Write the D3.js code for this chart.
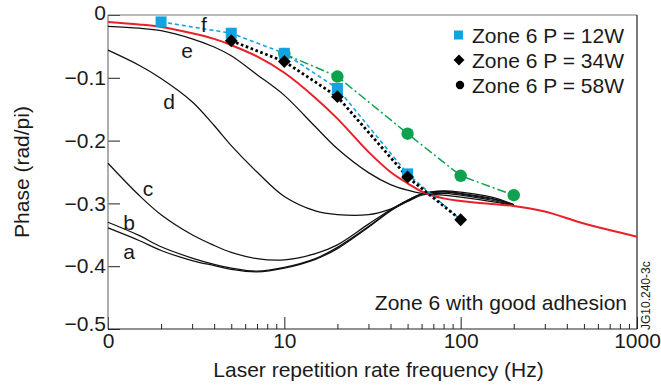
<!DOCTYPE html>
<html><head><meta charset="utf-8">
<script src="https://cdn.jsdelivr.net/npm/d3@7"></script>
<style>
body{margin:0;background:#fff}
svg{display:block}
text{font-family:"Liberation Sans",Arial,Helvetica,sans-serif;fill:#1a1a1a}
</style>
</head><body>
<svg id="chart" width="661" height="390"></svg>
<script>
// ---------- data ----------
const modelFreq = [1,1.5,2,3,4,5,7,10,15,20,30,40,50,60,80,100,150,200];
const curveA = [-0.339,-0.359,-0.375,-0.391,-0.399,-0.405,-0.409,-0.403,-0.389,-0.372,-0.338,-0.312,-0.296,-0.285,-0.280,-0.282,-0.290,-0.302];
const curveB = [-0.330,-0.351,-0.369,-0.387,-0.397,-0.403,-0.408,-0.402,-0.388,-0.370,-0.337,-0.311,-0.295,-0.285,-0.281,-0.284,-0.292,-0.302];
const curveC = [-0.236,-0.287,-0.318,-0.350,-0.367,-0.378,-0.388,-0.390,-0.380,-0.366,-0.333,-0.310,-0.295,-0.285,-0.282,-0.285,-0.293,-0.303];
const curveD = [-0.056,-0.080,-0.101,-0.138,-0.176,-0.208,-0.250,-0.289,-0.312,-0.318,-0.318,-0.309,-0.297,-0.287,-0.284,-0.287,-0.295,-0.303];
const curveE = [-0.018,-0.021,-0.025,-0.038,-0.051,-0.065,-0.095,-0.128,-0.178,-0.213,-0.251,-0.270,-0.279,-0.284,-0.287,-0.290,-0.297,-0.303];
const redFreq = [1,1.5,2,3,4,5,7,10,15,20,30,40,50,60,80,100,150,200,300,500,1000];
const redCurve = [-0.011,-0.015,-0.019,-0.029,-0.038,-0.048,-0.066,-0.092,-0.132,-0.165,-0.218,-0.250,-0.268,-0.281,-0.292,-0.296,-0.301,-0.304,-0.313,-0.332,-0.353];
const curveNames = ["a","b","c","d","e","f"];

// measured: 12 W (the 100 Hz point lies hidden under the 34 W diamond: line only)
const freq12W = [2,5,10,20,50,100];
const phase12W = [-0.011,-0.029,-0.061,-0.117,-0.253,-0.326];
const freq34W = [5,10,20,50,100];
const phase34W = [-0.041,-0.074,-0.130,-0.258,-0.326];
const freq58W = [10,20,50,100,200];
const phase58W = [-0.062,-0.098,-0.189,-0.256,-0.287];

const legendLabels = ["Zone 6 P = 12W","Zone 6 P = 34W","Zone 6 P = 58W"];
const xMajor = [1,10,100,1000];
const xMajorLabels = ["0","10","100","1000"];
const yTicks = [0,-0.1,-0.2,-0.3,-0.4,-0.5];
const yTickLabels = ["0","\u22120.1","\u22120.2","\u22120.3","\u22120.4","\u22120.5"];

// ---------- layout ----------
const L=108, R=637, T=15, B=329;
const svg = d3.select("#chart");
const x = d3.scaleLog().domain([1,1000]).range([L,R]);
const y = d3.scaleLinear().domain([-0.5,0]).range([B,T]);
const FS = 21;

// axes
const minor = [];
[1,10,100].forEach(d=>{for(let k=2;k<=9;k++) minor.push(d*k);});
const gx = svg.append("g").attr("transform",`translate(0,${B})`);
gx.call(d3.axisBottom(x).tickValues(xMajor).tickSizeInner(-12).tickSizeOuter(0).tickPadding(4)
  .tickFormat((d,i)=>xMajorLabels[i]));
const gxm = svg.append("g").attr("transform",`translate(0,${B})`);
gxm.call(d3.axisBottom(x).tickValues(minor).tickSizeInner(-5).tickSizeOuter(0).tickFormat(""));
const gy = svg.append("g").attr("transform",`translate(${L},0)`);
gy.call(d3.axisLeft(y).tickValues(yTicks).tickSizeInner(-12).tickSizeOuter(0).tickPadding(2)
  .tickFormat((d,i)=>yTickLabels[i]));
[gx,gxm,gy].forEach(g=>{
  g.select(".domain").remove();
  g.selectAll("line").attr("stroke","#222").attr("stroke-width",1);
  g.selectAll("text").attr("font-size",FS).attr("fill","#1a1a1a")
   .attr("font-family",'"Liberation Sans",Arial,sans-serif');
});
gy.selectAll("text").attr("dy",(d)=> d===0 ? "0.2em" : (d===-0.5 ? "0.05em" : "0.32em"));

// frame
svg.append("line").attr("x1",L).attr("x2",R).attr("y1",T).attr("y2",T).attr("stroke","#777").attr("stroke-width",1.2);
svg.append("line").attr("x1",L).attr("x2",L).attr("y1",T).attr("y2",B).attr("stroke","#777").attr("stroke-width",1.2);
svg.append("line").attr("x1",L).attr("x2",R).attr("y1",B).attr("y2",B).attr("stroke","#222").attr("stroke-width",1.2);
svg.append("line").attr("x1",R).attr("x2",R).attr("y1",T).attr("y2",B).attr("stroke","#222").attr("stroke-width",1.2);

// axis titles
svg.append("text").attr("x",(L+R)/2 + 6).attr("y",377).attr("text-anchor","middle").attr("font-size",FS)
  .text("Laser repetition rate frequency (Hz)");
svg.append("text").attr("transform","translate(29,172) rotate(-90)").attr("text-anchor","middle").attr("font-size",FS)
  .text("Phase (rad/pi)");

// curves
const plot = svg.append("g");
const line = (fx)=> d3.line().x((d,i)=>x(fx[i])).y(d=>y(d)).curve(d3.curveCatmullRom.alpha(0.5));
[curveA,curveB,curveC,curveD,curveE].forEach(c=>{
  plot.append("path").attr("d",line(modelFreq)(c)).attr("fill","none").attr("stroke","#111").attr("stroke-width",1.25);
});
plot.append("path").attr("d",line(redFreq)(redCurve)).attr("fill","none").attr("stroke","#e8202a").attr("stroke-width",2);

// measured series lines
const lin = (fx)=> d3.line().x((d,i)=>x(fx[i])).y(d=>y(d));
plot.append("path").attr("d",lin(freq12W)(phase12W)).attr("fill","none").attr("stroke","#12a4e2")
  .attr("stroke-width",1.6).attr("stroke-dasharray","4,3");
plot.append("path").attr("d",lin(freq58W)(phase58W)).attr("fill","none").attr("stroke","#0ea14f")
  .attr("stroke-width",1.5).attr("stroke-dasharray","9,3,2,3");
plot.append("path").attr("d",lin(freq34W)(phase34W)).attr("fill","none").attr("stroke","#000")
  .attr("stroke-width",2.8).attr("stroke-dasharray","2.6,2.6");

// markers
plot.selectAll(".g58").data(phase58W).enter().append("circle")
  .attr("cx",(d,i)=>x(freq58W[i])).attr("cy",d=>y(d)).attr("r",6.2).attr("fill","#0ea14f");
plot.selectAll(".s12").data(phase12W.slice(0,-1)).enter().append("rect")
  .attr("x",(d,i)=>x(freq12W[i])-5.5).attr("y",d=>y(d)-5.5).attr("width",11).attr("height",11).attr("fill","#12a4e2");
const diamond = d3.symbol().type(d3.symbolDiamond2).size(105);
plot.selectAll(".d34").data(phase34W).enter().append("path")
  .attr("d",diamond).attr("transform",(d,i)=>`translate(${x(freq34W[i])},${y(d)})`).attr("fill","#000");

// curve labels
const labelPos = [[129,252],[129,223],[148,189],[169,102],[187,51],[204,25]];
curveNames.forEach((n,i)=>{
  svg.append("text").attr("x",labelPos[i][0]).attr("y",labelPos[i][1]).attr("dy","0.35em")
    .attr("text-anchor","middle").attr("font-size",FS).text(n);
});

// legend
const legY = [35,60,85];
const lg = svg.append("g");
lg.append("rect").attr("x",454).attr("y",legY[0]-4.5).attr("width",9).attr("height",9).attr("fill","#12a4e2");
lg.append("path").attr("d",d3.symbol().type(d3.symbolDiamond2).size(75)).attr("transform",`translate(459,${legY[1]})`).attr("fill","#000");
lg.append("circle").attr("cx",460).attr("cy",legY[2]).attr("r",4.2).attr("fill","#000");
legendLabels.forEach((t,i)=>{
  lg.append("text").attr("x",472).attr("y",legY[i]+8).attr("font-size",FS).text(t);
});

// annotations
svg.append("text").attr("x",627).attr("y",310).attr("text-anchor","end").attr("font-size",FS).text("Zone 6 with good adhesion");
svg.append("text").attr("transform","translate(650,330) rotate(-90)").attr("font-size",12).text("JG10.240-3c");
</script>
</body></html>
